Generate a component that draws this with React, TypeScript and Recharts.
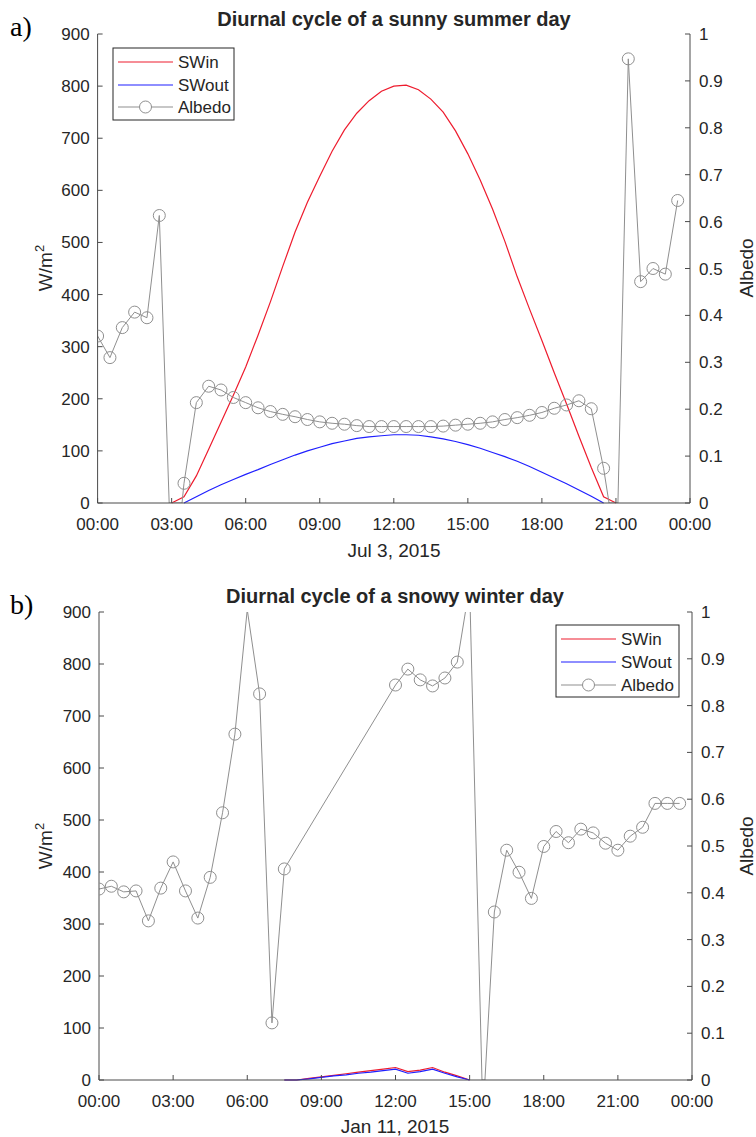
import React from "react";
import { LineChart, Line, XAxis, YAxis } from "recharts";

const hourTicks = [0, 3, 6, 9, 12, 15, 18, 21, 24];
const fluxTicks = [0, 100, 200, 300, 400, 500, 600, 700, 800, 900];
const albedoTicks = [0, 0.1, 0.2, 0.3, 0.4, 0.5, 0.6, 0.7, 0.8, 0.9, 1];

// a) Jul 3, 2015 - sunny summer day
const summerHours = [
  3, 3.5, 4, 4.5, 5, 5.5, 6, 6.5, 7, 7.5, 8, 8.5, 9, 9.5, 10, 10.5, 11, 11.5, 12,
  12.5, 13, 13.5, 14, 14.5, 15, 15.5, 16, 16.5, 17, 17.5, 18, 18.5, 19, 19.5, 20,
  20.5, 21,
];
const summerSWin = [
  0, 12, 52, 103, 155, 207, 261, 322, 386, 454, 520, 577, 627, 675, 716, 748, 772,
  790, 800, 802, 793, 775, 750, 714, 670, 620, 564, 502, 434, 372, 312, 250, 190,
  128, 68, 12, 0,
];
const summerSWout = [
  null, 0, 12, 24, 35, 45, 55, 64, 74, 83, 92, 100, 107, 114, 119, 124, 127, 129,
  131, 131, 130, 127, 123, 118, 112, 105, 97, 89, 80, 70, 59, 48, 37, 25, 13, 0,
  null,
];
const summerAlbedoHours = [
  0, 0.5, 1, 1.5, 2, 2.5, 2.9, 3.42, 3.5, 4, 4.5, 5, 5.5, 6, 6.5, 7, 7.5, 8, 8.5,
  9, 9.5, 10, 10.5, 11, 11.5, 12, 12.5, 13, 13.5, 14, 14.5, 15, 15.5, 16, 16.5, 17,
  17.5, 18, 18.5, 19, 19.5, 20, 20.5, 20.72, 21.08, 21.5, 22, 22.5, 23, 23.5,
];
const summerAlbedo = [
  0.356, 0.31, 0.374, 0.407, 0.395, 0.613, 0, 0, 0.042, 0.214, 0.249, 0.241, 0.225,
  0.214, 0.203, 0.195, 0.189, 0.184, 0.178, 0.173, 0.17, 0.168, 0.165, 0.163, 0.163,
  0.163, 0.163, 0.163, 0.163, 0.164, 0.166, 0.168, 0.17, 0.173, 0.178, 0.182, 0.187,
  0.193, 0.202, 0.209, 0.218, 0.201, 0.074, 0, 0, 0.947, 0.472, 0.5, 0.488, 0.645,
];

// b) Jan 11, 2015 - snowy winter day
const winterHours = [
  7.5, 8, 8.5, 9, 9.5, 10, 10.5, 11, 11.5, 12, 12.5, 13, 13.5, 14, 14.5, 15,
];
const winterSWin = [0, 0, 3, 6, 9, 12, 15, 18, 21, 24, 16, 19, 24, 15, 8, 0];
const winterSWout = [0, 0, 2, 5, 8, 10, 13, 15, 18, 21, 13, 16, 21, 13, 6, 0];
const winterAlbedoHours = [
  0, 0.5, 1, 1.5, 2, 2.5, 3, 3.5, 4, 4.5, 5, 5.5, 6, 6.5, 7, 7.5, 12, 12.5, 13,
  13.5, 14, 14.5, 15, 15.5, 15.62, 16, 16.5, 17, 17.5, 18, 18.5, 19, 19.5, 20, 20.5,
  21, 21.5, 22, 22.5, 23, 23.5,
];
const winterAlbedo = [
  0.408, 0.414, 0.402, 0.404, 0.34, 0.41, 0.466, 0.404, 0.346, 0.433, 0.571, 0.739,
  1.005, 0.825, 0.122, 0.451, 0.844, 0.878, 0.855, 0.842, 0.859, 0.893, 1.055, 0, 0,
  0.359, 0.491, 0.444, 0.388, 0.499, 0.531, 0.507, 0.536, 0.528, 0.506, 0.491,
  0.521, 0.54, 0.591, 0.591, 0.591,
];

const RED = "#ee1c2e";
const BLUE = "#1f1fff";
const GREY = "#8f8f8f";
const INK = "#262626";
const AXIS = "#4a4a4a";
const FONT = "'Liberation Sans', Arial, sans-serif";

const fmtHour = (h: number) => `${String(h % 24).padStart(2, "0")}:00`;

// circles only for points inside the albedo range, like the clipped original
const albedoDot = (props: any) => {
  const { cx, cy, payload, index } = props;
  if (payload.a <= 0 || payload.a > 1) return <g key={`n${index}`} />;
  return (
    <circle key={`c${index}`} cx={cx} cy={cy} r={6} fill="none" stroke={GREY} strokeWidth={1} />
  );
};

const Panel = ({ top, height, margin, leftW, hours, swin, swout, aHours, albedo }: any) => {
  const rows = hours.map((h: number, i: number) => ({ h, swin: swin[i], swout: swout[i] }));
  const aRows = aHours.map((h: number, i: number) => ({ h, a: albedo[i] }));
  const tick = { fontSize: 17, fill: INK };
  return (
    <div style={{ position: "absolute", left: 0, top }}>
      <LineChart width={756} height={height} data={rows} margin={margin}>
        <XAxis
          xAxisId="b"
          type="number"
          dataKey="h"
          domain={[0, 24]}
          ticks={hourTicks}
          interval={0}
          allowDataOverflow
          tickFormatter={fmtHour}
          height={30}
          tickSize={-5}
          tickMargin={20}
          tick={tick}
          stroke={AXIS}
        />
        <XAxis
          xAxisId="t"
          orientation="top"
          type="number"
          dataKey="h"
          domain={[0, 24]}
          ticks={hourTicks}
          interval={0}
          allowDataOverflow
          tickFormatter={() => ""}
          height={0}
          tickSize={-5}
          stroke={AXIS}
        />
        <YAxis
          yAxisId="l"
          domain={[0, 900]}
          ticks={fluxTicks}
          interval={0}
          width={leftW}
          tickSize={-5}
          tickMargin={13}
          tick={tick}
          stroke={AXIS}
        />
        <YAxis
          yAxisId="r"
          orientation="right"
          domain={[0, 1]}
          ticks={albedoTicks}
          interval={0}
          allowDataOverflow
          width={40}
          tickSize={-5}
          tickMargin={14}
          tick={{ ...tick, textAnchor: "start" }}
          stroke={AXIS}
        />
        <Line
          xAxisId="b"
          yAxisId="l"
          dataKey="swin"
          stroke={RED}
          strokeWidth={1.2}
          dot={false}
          isAnimationActive={false}
        />
        <Line
          xAxisId="b"
          yAxisId="l"
          dataKey="swout"
          stroke={BLUE}
          strokeWidth={1.2}
          dot={false}
          isAnimationActive={false}
        />
        <Line
          xAxisId="b"
          yAxisId="r"
          data={aRows}
          dataKey="a"
          stroke={GREY}
          strokeWidth={1}
          dot={albedoDot}
          isAnimationActive={false}
        />
      </LineChart>
    </div>
  );
};

const LegendBox = ({ x, y, w, h, rows }: any) => (
  <g>
    <rect x={x} y={y} width={w} height={h} fill="#fff" stroke={INK} strokeWidth={1} />
    {[
      { name: "SWin", color: RED },
      { name: "SWout", color: BLUE },
      { name: "Albedo", color: GREY },
    ].map((it, i) => (
      <g key={it.name}>
        <line x1={x + 5} x2={x + 60} y1={rows[i]} y2={rows[i]} stroke={it.color} strokeWidth={1.2} />
        {it.name === "Albedo" && (
          <circle cx={x + 32.5} cy={rows[i]} r={6} fill="#fff" stroke={GREY} strokeWidth={1} />
        )}
        <text x={x + 65} y={rows[i] + 6} fontSize={17} fill={INK}>
          {it.name}
        </text>
      </g>
    ))}
  </g>
);

const Overlay = () => (
  <svg
    width={756}
    height={1137}
    style={{ position: "absolute", left: 0, top: 0, pointerEvents: "none", fontFamily: FONT }}
  >
    <text x={10} y={36} fontSize={28} fontFamily="'Liberation Serif', 'Times New Roman', serif" fill="#000">
      a)
    </text>
    <text x={10} y={614} fontSize={28} fontFamily="'Liberation Serif', 'Times New Roman', serif" fill="#000">
      b)
    </text>
    <text x={394} y={26} fontSize={20} fontWeight="bold" textAnchor="middle" fill={INK}>
      Diurnal cycle of a sunny summer day
    </text>
    <text x={395} y={603} fontSize={20} fontWeight="bold" textAnchor="middle" fill={INK}>
      Diurnal cycle of a snowy winter day
    </text>
    <text x={394} y={557} fontSize={19} textAnchor="middle" fill={INK}>
      Jul 3, 2015
    </text>
    <text x={395} y={1133} fontSize={19} textAnchor="middle" fill={INK}>
      Jan 11, 2015
    </text>
    <text transform="translate(52,268) rotate(-90)" fontSize={19} textAnchor="middle" fill={INK}>
      W/m<tspan dy={-8} fontSize={13}>2</tspan>
    </text>
    <text transform="translate(52,846) rotate(-90)" fontSize={19} textAnchor="middle" fill={INK}>
      W/m<tspan dy={-8} fontSize={13}>2</tspan>
    </text>
    <text transform="translate(753,268) rotate(-90)" fontSize={19} textAnchor="middle" fill={INK}>
      Albedo
    </text>
    <text transform="translate(753,846) rotate(-90)" fontSize={19} textAnchor="middle" fill={INK}>
      Albedo
    </text>
    <LegendBox x={113} y={48} w={121} h={72} rows={[62, 85, 107]} />
    <LegendBox x={556} y={625} w={123} h={72} rows={[639, 662, 685]} />
  </svg>
);

export default function App() {
  return (
    <div
      style={{
        position: "absolute",
        left: 0,
        top: 0,
        width: 756,
        height: 1137,
        background: "#fff",
        fontFamily: FONT,
      }}
    >
      <Panel
        top={0}
        height={560}
        margin={{ top: 34, right: 26, bottom: 27, left: 40 }}
        leftW={57.6}
        hours={summerHours}
        swin={summerSWin}
        swout={summerSWout}
        aHours={summerAlbedoHours}
        albedo={summerAlbedo}
      />
      <Panel
        top={560}
        height={577}
        margin={{ top: 52, right: 24, bottom: 27, left: 41 }}
        leftW={58}
        hours={winterHours}
        swin={winterSWin}
        swout={winterSWout}
        aHours={winterAlbedoHours}
        albedo={winterAlbedo}
      />
      <Overlay />
    </div>
  );
}
